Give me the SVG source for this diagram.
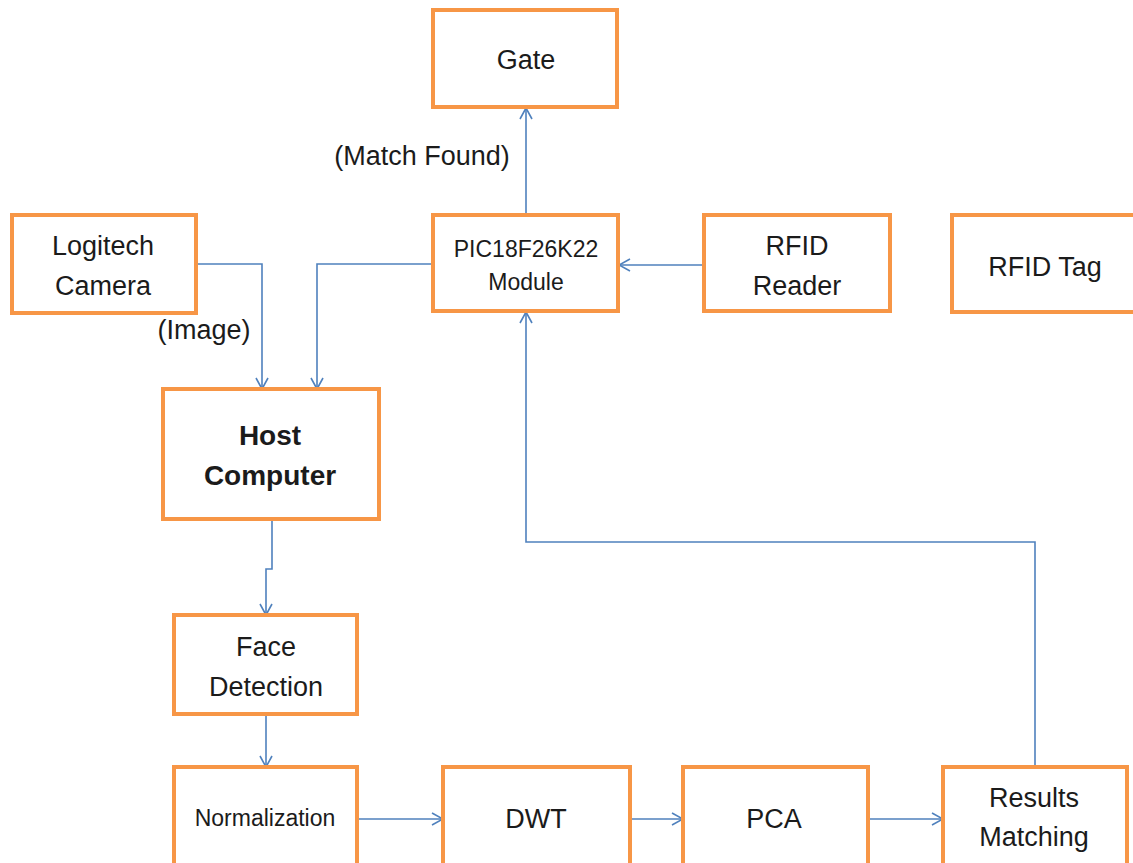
<svg xmlns="http://www.w3.org/2000/svg" width="1133" height="863" viewBox="0 0 1133 863">
  <style>
    .box { fill: #ffffff; stroke: #F79646; stroke-width: 4; }
    .lbl { font-family: "Liberation Sans", Arial, sans-serif; font-size: 27px; fill: #1b1b1b; text-anchor: middle; }
    .sm { font-size: 23px; }
    .bold { font-weight: bold; font-size: 28px; }
    .wire { fill: none; stroke: #4F81BD; stroke-width: 1.6; marker-end: url(#arrow); }
  </style>
  <defs>
    <marker id="arrow" viewBox="0 0 14 14" refX="13" refY="7" markerWidth="14" markerHeight="14" markerUnits="userSpaceOnUse" orient="auto">
      <polyline points="2,1 13,7 2,13" fill="none" stroke="#4F81BD" stroke-width="1.6"/>
    </marker>
  </defs>
  <rect width="1133" height="863" fill="#ffffff"/>

  <g id="connectors">
    <path class="wire" d="M526,215 V108"/>
    <path class="wire" d="M196,264 H262 V389"/>
    <path class="wire" d="M433,264 H317 V389"/>
    <path class="wire" d="M704,265 H619"/>
    <path class="wire" d="M272,519 V569 H266 V615"/>
    <path class="wire" d="M266,714 V767"/>
    <path class="wire" d="M358,819 H443"/>
    <path class="wire" d="M630,819 H683"/>
    <path class="wire" d="M868,819 H943"/>
    <path class="wire" d="M1035,767 V542 H526 V312"/>
  </g>

  <g id="gate">
    <rect class="box" x="433" y="10" width="184" height="97"/>
    <text class="lbl" x="526" y="69">Gate</text>
  </g>
  <g id="pic-module">
    <rect class="box" x="433" y="215" width="185" height="96"/>
    <text class="lbl sm" x="526" y="257">PIC18F26K22</text>
    <text class="lbl sm" x="526" y="290">Module</text>
  </g>
  <g id="rfid-reader">
    <rect class="box" x="704" y="215" width="186" height="96"/>
    <text class="lbl" x="797" y="255">RFID</text>
    <text class="lbl" x="797" y="295">Reader</text>
  </g>
  <g id="rfid-tag">
    <rect class="box" x="952" y="215" width="190" height="97"/>
    <text class="lbl" x="1045" y="276">RFID Tag</text>
  </g>
  <g id="camera">
    <rect class="box" x="12" y="215" width="184" height="98"/>
    <text class="lbl" x="103" y="255">Logitech</text>
    <text class="lbl" x="103" y="295">Camera</text>
  </g>
  <g id="host-computer">
    <rect class="box" x="163" y="389" width="216" height="130"/>
    <text class="lbl bold" x="270" y="445">Host</text>
    <text class="lbl bold" x="270" y="485">Computer</text>
  </g>
  <g id="face-detection">
    <rect class="box" x="174" y="615" width="183" height="99"/>
    <text class="lbl" x="266" y="656">Face</text>
    <text class="lbl" x="266" y="696">Detection</text>
  </g>
  <g id="normalization">
    <rect class="box" x="174" y="767" width="183" height="110"/>
    <text class="lbl sm" x="265" y="826">Normalization</text>
  </g>
  <g id="dwt">
    <rect class="box" x="443" y="767" width="187" height="110"/>
    <text class="lbl" x="536" y="828">DWT</text>
  </g>
  <g id="pca">
    <rect class="box" x="683" y="767" width="185" height="110"/>
    <text class="lbl" x="774" y="828">PCA</text>
  </g>
  <g id="results-matching">
    <rect class="box" x="943" y="767" width="184" height="110"/>
    <text class="lbl" x="1034" y="807">Results</text>
    <text class="lbl" x="1034" y="846">Matching</text>
  </g>

  <g id="edge-labels">
    <text class="lbl" x="422" y="165">(Match Found)</text>
    <text class="lbl" x="204" y="339">(Image)</text>
  </g>
</svg>
